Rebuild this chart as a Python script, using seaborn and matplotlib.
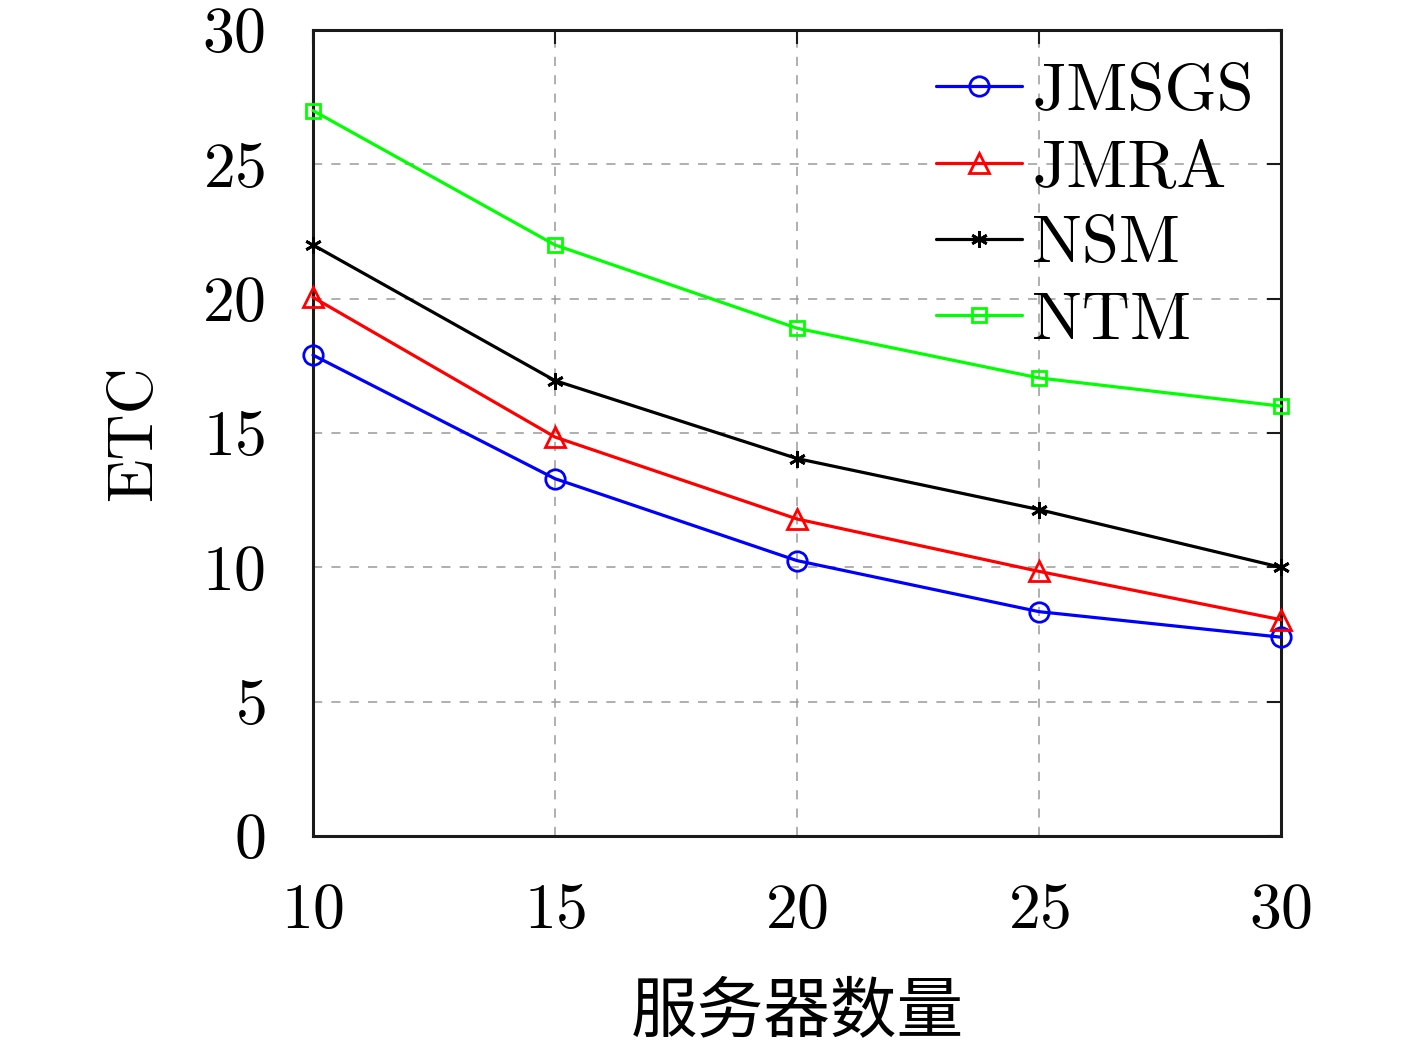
import matplotlib
matplotlib.use("Agg")
import matplotlib.pyplot as plt
import seaborn as sns
import pandas as pd

# data
servers = [10, 15, 20, 25, 30]
jmsgs = [17.9, 13.3, 10.25, 8.35, 7.4]
jmra = [20.05, 14.85, 11.8, 9.85, 8.05]
nsm = [22.0, 16.95, 14.05, 12.15, 10.0]
ntm = [27.0, 22.0, 18.9, 17.05, 16.0]

names = ["JMSGS", "JMRA", "NSM", "NTM"]
series = [jmsgs, jmra, nsm, ntm]
colors = ["#0000ff", "#ff0000", "#000000", "#00ff00"]
markers = ["o", "^", (6, 2, 0), "s"]
msizes = [14, 14, 12, 10]

sns.set_theme(style="white")
plt.rcParams["font.family"] = ["cmr10", "DejaVu Sans"]
plt.rcParams["axes.formatter.use_mathtext"] = True
plt.rcParams["mathtext.fontset"] = "cm"

fig = plt.figure(figsize=(14.17, 10.46), dpi=100)
ax = fig.add_axes([313 / 1417, 1 - 836 / 1046, 968 / 1417, 806 / 1046])

for name, vals, c, m, ms in zip(names, series, colors, markers, msizes):
    df = pd.DataFrame({"x": servers, "y": vals})
    sns.lineplot(data=df, x="x", y="y", ax=ax, color=c, linewidth=2.3,
                 marker=m, markersize=ms, markerfacecolor="none",
                 markeredgecolor=c, markeredgewidth=2, label=name,
                 clip_on=False, zorder=3)

ax.set_xlim(10, 30)
ax.set_ylim(0, 30)
ax.set_xticks([10, 15, 20, 25, 30])
ax.set_yticks([0, 5, 10, 15, 20, 25, 30])

ax.grid(True, linestyle=(0, (6, 6)), color="#9a9a9a", linewidth=1.1)
for s in ax.spines.values():
    s.set_linewidth(2.2)
    s.set_color("#1a1a1a")
    s.set_visible(True)

ax.tick_params(direction="in", length=10, width=1.5, top=True, right=True,
               labelsize=46, pad=34, colors="#1a1a1a")
for lab in ax.get_xticklabels() + ax.get_yticklabels():
    lab.set_color("black")

ax.set_ylabel("ETC", fontsize=46, labelpad=28, color="black")
ax.set_xlabel("服务器数量", fontsize=48, labelpad=27, color="black",
              family=["Noto Sans CJK SC", "DejaVu Sans"])

leg = ax.legend(loc="upper right", frameon=False, fontsize=48,
                handlelength=1.3, handletextpad=0.15, labelspacing=0.25,
                borderaxespad=0.2,
                bbox_to_anchor=(1.0 + 13 / 968, 1.0 + 7 / 806))
for t in leg.get_texts():
    t.set_color("black")

fig.savefig("out.png", dpi=100)
